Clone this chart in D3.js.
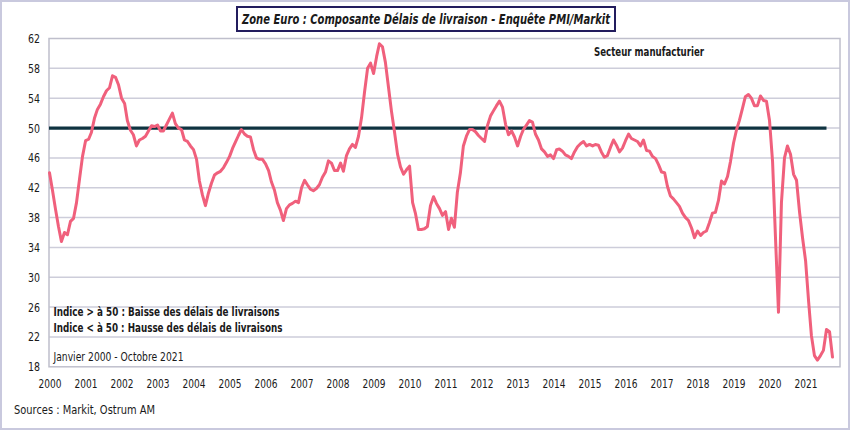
<!DOCTYPE html>
<html>
<head>
<meta charset="utf-8">
<script src="https://cdn.jsdelivr.net/npm/d3@7/dist/d3.min.js"></script>
<style>
  html, body { margin: 0; padding: 0; background: #ffffff; }
  svg { display: block; }
  text { font-family: "Liberation Sans Narrow", "Arial Narrow", "DejaVu Sans Condensed", sans-serif; fill: #1a1a1a; }
</style>
</head>
<body>
<svg id="chart" width="851" height="431"></svg>
<script>
// ---------- DATA ----------
const startYear = 2000;
const yearLabels = ["2000","2001","2002","2003","2004","2005","2006","2007","2008","2009","2010",
  "2011","2012","2013","2014","2015","2016","2017","2018","2019","2020","2021"];
const yTicks = [18, 22, 26, 30, 34, 38, 42, 46, 50, 54, 58, 62];
const threshold = 50;
// Monthly index, Jan 2000 - Oct 2021
const deliveryIndex = [
  44.0, 41.6, 39.2, 36.8, 34.8, 36.0, 35.7, 37.5, 37.9, 40.0, 43.2, 46.2,
  48.3, 48.5, 49.4, 51.3, 52.5, 53.2, 54.2, 55.0, 55.4, 57.0, 56.8, 55.8,
  54.0, 53.3, 51.0, 49.7, 49.1, 47.6, 48.4, 48.6, 48.9, 49.6, 50.3, 50.2,
  50.4, 49.6, 49.6, 50.4, 51.2, 52.0, 50.6, 50.0, 49.8, 48.4, 48.2, 47.6,
  47.1, 45.8, 42.9, 41.0, 39.6, 41.3, 42.6, 43.7, 44.0, 44.2, 44.7, 45.4,
  46.2, 47.3, 48.1, 49.0, 49.8, 49.2, 48.9, 48.8, 47.1, 46.0, 45.8, 45.8,
  45.2, 44.3, 42.8, 41.7, 40.0, 39.0, 37.6, 39.2, 39.7, 39.9, 40.2, 40.0,
  42.0, 43.0, 42.4, 41.8, 41.6, 41.9, 42.4, 43.4, 44.1, 45.6, 45.3, 44.3,
  44.3, 45.3, 44.2, 46.3, 47.2, 47.8, 47.4, 48.9, 51.4, 54.8, 58.0, 58.7,
  57.3, 59.6, 61.3, 60.9, 58.8, 55.5, 52.3, 49.5, 46.5, 44.8, 43.8, 44.4,
  44.9, 40.0, 38.6, 36.4, 36.4, 36.5, 36.8, 39.6, 40.8, 39.9, 39.2, 38.3,
  38.8, 36.4, 37.9, 36.7, 41.4, 44.0, 47.6, 48.9, 49.8, 49.8, 49.5, 49.0,
  48.6, 48.2, 50.3, 51.6, 52.3, 53.0, 53.6, 52.8, 50.5, 49.1, 49.6, 48.8,
  47.6, 48.9, 49.8, 50.4, 51.0, 50.8, 49.2, 48.4, 47.2, 46.8, 46.2, 46.4,
  45.9, 47.1, 47.2, 46.9, 46.4, 46.2, 45.9, 46.8, 47.5, 47.9, 48.2, 47.6,
  47.8, 47.6, 47.8, 47.7, 46.8, 46.1, 46.3, 47.4, 48.4, 47.7, 46.8, 47.3,
  48.3, 49.2, 48.6, 48.4, 48.2, 47.6, 48.4, 47.0, 46.9, 46.2, 45.9, 45.1,
  44.1, 44.0, 42.2, 40.9, 40.5, 40.0, 39.5, 38.6, 38.0, 37.6, 36.6, 35.3,
  36.2, 35.6, 36.0, 36.2, 37.3, 38.6, 38.7, 40.3, 42.9, 42.5, 43.5, 45.5,
  48.0, 49.8, 51.0, 52.6, 54.2, 54.5, 54.0, 53.0, 53.0, 54.3, 53.7, 53.6,
  51.0, 45.5, 35.5, 25.3, 40.0, 46.0, 47.6, 46.5, 43.8, 43.0, 38.7, 35.3,
  32.2, 26.7, 22.2, 19.5, 18.9, 19.5, 20.2, 23.0, 22.7, 19.3
];
const thresholdEndMonth = 259; // horizontal 50 line extends to Aug 2021

const titleText = "Zone Euro : Composante Délais de livraison - Enquête PMI/Markit";
const sectorText = "Secteur manufacturier";
const noteLines = ["Indice > à 50 : Baisse des délais de livraisons",
                   "Indice < à 50 : Hausse des délais de livraisons"];
const periodText = "Janvier 2000 - Octobre 2021";
const sourceText = "Sources : Markit, Ostrum AM";

// ---------- LAYOUT ----------
const FONT = '"Liberation Sans Narrow", "Arial Narrow", "DejaVu Sans Condensed", sans-serif';
const svg = d3.select("#chart");
const plot = { left: 49, right: 840, top: 38.5, bottom: 366.8 };

const dates = deliveryIndex.map((v, i) => new Date(startYear, i, 1));
const x = d3.scaleTime()
  .domain([dates[0], dates[dates.length - 1]])
  .range([49.5, 832.5]);
const y = d3.scaleLinear().domain([18, 62]).range([plot.bottom, plot.top]);

// outer border
svg.append("rect")
  .attr("x", 1).attr("y", 1).attr("width", 848).attr("height", 428)
  .attr("fill", "#ffffff").attr("stroke", "#c9c9de").attr("stroke-width", 2);

// gridlines
svg.append("g").selectAll("line")
  .data(yTicks.filter(t => t > 18 && t < 62))
  .join("line")
  .attr("x1", plot.left).attr("x2", plot.right)
  .attr("y1", d => y(d)).attr("y2", d => y(d))
  .attr("stroke", "#cdcdda").attr("stroke-width", 1.5);

// plot frame
svg.append("rect")
  .attr("x", plot.left).attr("y", plot.top)
  .attr("width", plot.right - plot.left).attr("height", plot.bottom - plot.top)
  .attr("fill", "none").attr("stroke", "#bfbfcc").attr("stroke-width", 1.5);

// y axis
const yAxis = d3.axisLeft(y).tickValues(yTicks).tickSize(0).tickPadding(9);
const yG = svg.append("g").attr("transform", `translate(${plot.left},0)`).call(yAxis);
yG.select(".domain").remove();
yG.selectAll("text")
  .style("font-family", FONT)
  .style("font-size", "12.5px").attr("fill", "#1a1a1a")
  .attr("textLength", 12).attr("lengthAdjust", "spacingAndGlyphs");

// x axis
const xTickDates = yearLabels.map(l => new Date(+l, 0, 1));
const xAxis = d3.axisBottom(x).tickValues(xTickDates).tickFormat((d, i) => yearLabels[i])
  .tickSize(0).tickPadding(12);
const xG = svg.append("g").attr("transform", `translate(0,${plot.bottom})`).call(xAxis);
xG.select(".domain").remove();
xG.selectAll("text")
  .style("font-family", FONT)
  .style("font-size", "12.5px").attr("fill", "#1a1a1a")
  .attr("textLength", 23).attr("lengthAdjust", "spacingAndGlyphs");

// threshold line
svg.append("line")
  .attr("x1", x(dates[0]) - 0.5).attr("x2", x(dates[thresholdEndMonth]))
  .attr("y1", y(threshold)).attr("y2", y(threshold))
  .attr("stroke", "#0f3340").attr("stroke-width", 3.2);

// series line
const line = d3.line()
  .x((d, i) => x(dates[i]))
  .y(d => y(d));
svg.append("path")
  .datum(deliveryIndex)
  .attr("d", line)
  .attr("fill", "none")
  .attr("stroke", "#f0607c")
  .attr("stroke-width", 3)
  .attr("stroke-linejoin", "round")
  .attr("stroke-linecap", "round");

// title box
svg.append("rect")
  .attr("x", 237).attr("y", 7).attr("width", 378).attr("height", 24)
  .attr("fill", "#ffffff").attr("stroke", "#231d5e").attr("stroke-width", 2);
svg.append("text")
  .attr("x", 242).attr("y", 24)
  .attr("textLength", 368).attr("lengthAdjust", "spacingAndGlyphs")
  .style("font-size", "14px").style("font-weight", "bold").style("font-style", "italic")
  .text(titleText);

// sector label
svg.append("text")
  .attr("x", 594).attr("y", 56)
  .attr("textLength", 110).attr("lengthAdjust", "spacingAndGlyphs")
  .style("font-size", "12.5px").style("font-weight", "bold")
  .text(sectorText);

// notes
svg.append("text")
  .attr("x", 53.5).attr("y", 315.5)
  .attr("textLength", 226).attr("lengthAdjust", "spacingAndGlyphs")
  .style("font-size", "12.5px").style("font-weight", "bold")
  .text(noteLines[0]);
svg.append("text")
  .attr("x", 53.5).attr("y", 331.5)
  .attr("textLength", 229).attr("lengthAdjust", "spacingAndGlyphs")
  .style("font-size", "12.5px").style("font-weight", "bold")
  .text(noteLines[1]);
svg.append("text")
  .attr("x", 53.5).attr("y", 361)
  .attr("textLength", 130).attr("lengthAdjust", "spacingAndGlyphs")
  .style("font-size", "12.5px")
  .text(periodText);

// sources
svg.append("text")
  .attr("x", 14).attr("y", 414)
  .attr("textLength", 141).attr("lengthAdjust", "spacingAndGlyphs")
  .style("font-size", "12.5px")
  .text(sourceText);
</script>
</body>
</html>
